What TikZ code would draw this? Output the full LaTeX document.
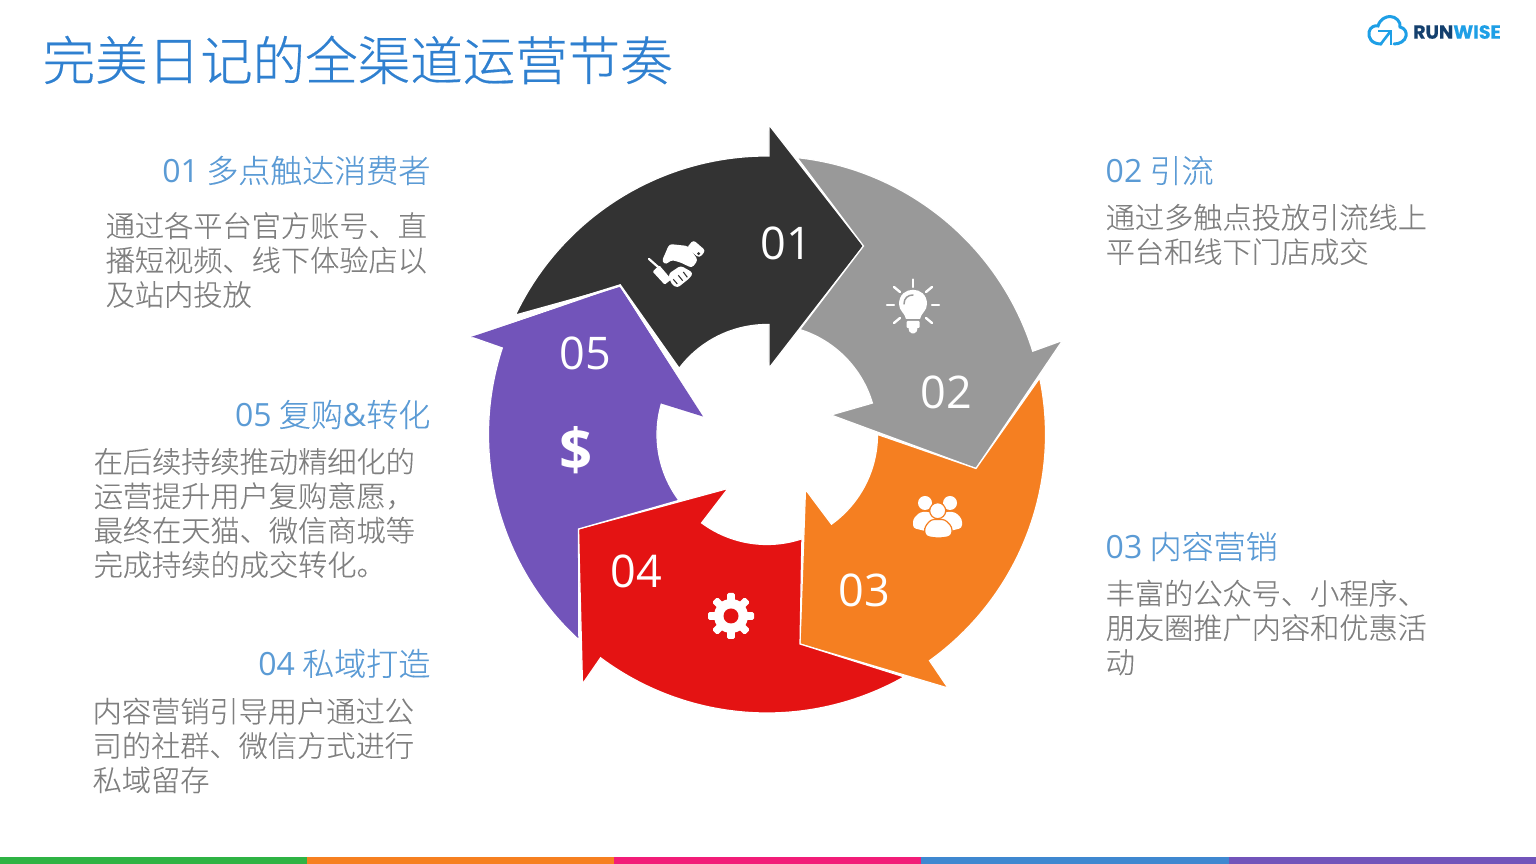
\documentclass[tikz,border=0pt]{standalone}
\usepackage{fontspec}
\usetikzlibrary{calc}
\setmainfont{Noto Sans CJK SC Light}
\newfontfamily\titlecjk[FakeBold=0.35]{Noto Sans CJK SC Light}
\newfontfamily\bodycjk[FakeBold=0.2]{Noto Sans CJK SC Light}
\newfontfamily\osf{Open Sans}
\newfontfamily\logofont[FakeBold=0.5]{Poppins}
\definecolor{cdark}{HTML}{333333}
\definecolor{cgray}{HTML}{999999}
\definecolor{corange}{HTML}{F57F21}
\definecolor{cred}{HTML}{E41313}
\definecolor{cpurple}{HTML}{7254BA}
\definecolor{ctitle}{HTML}{2F80D0}
\definecolor{chead}{HTML}{5B9BD5}
\definecolor{cbody}{HTML}{7F7F7F}
\definecolor{lblue}{HTML}{1E9FE6}
\definecolor{ldark}{HTML}{14406E}
\tikzset{
 seg/.style={draw=white,line width=1.2pt,line join=miter},
 num/.style={text=white,font={\osf\fontsize{45}{44}\selectfont},inner sep=0pt},
 titletext/.style={text=ctitle,font={\titlecjk\fontsize{52.5}{60}\selectfont},inner sep=0pt,anchor=west},
 headr/.style={text=chead,font={\bodycjk\fontsize{32}{38}\selectfont},inner sep=0pt,anchor=east},
 headl/.style={text=chead,font={\bodycjk\fontsize{32}{38}\selectfont},inner sep=0pt,anchor=west},
 bodytext/.style={text=cbody,font={\bodycjk\fontsize{29.2}{34.4}\selectfont},inner sep=0pt,anchor=west,align=left},
 ray/.style={draw=white,line width=2.4pt,line cap=round},
 px/.style={shift={(0,864)},x=1pt,y=-1pt},
}
\begin{document}
\begin{tikzpicture}[x=1pt,y=1pt]
\useasboundingbox (0,0) rectangle (1536,864);
\fill[white] (0,0) rectangle (1536,864);
\coordinate (c) at (767,429.5);
% arrows
\fill[cdark,seg] (620,578) -- ($(c)+(154.6:278.5)$) arc[start angle=154.6,end angle=89.6,radius=278.5pt] -- (769,739) -- (863.5,618) -- (769,496) -- ($(c)+(89:110)$) arc[start angle=89,end angle=143.8,radius=110pt] -- cycle;
\fill[cgray,seg] ($(c)+(83.8:278.5)$) arc[start angle=83.8,end angle=17.4,radius=278.5pt] -- (1062.5,523.5) -- (976,395.5) -- (831,449) -- ($(c)+(16.6:110)$) arc[start angle=16.6,end angle=72.6,radius=110pt] -- (863.5,618) -- cycle;
\fill[corange,seg] (805.5,374.5) -- ($(c)+(-54.3:110.5)$) arc[start angle=-54.3,end angle=0,radius=110.5pt] -- (976,395.5) -- ($(c)+(11.7:278.5)$) arc[start angle=11.7,end angle=-54.3,radius=278.5pt] -- (948,176) -- (800,220) -- cycle;
\fill[cred,seg] (578.5,335) -- (728,375.5) -- ($(c)+(-126.5:110)$) arc[start angle=-126.5,end angle=-71.5,radius=110pt] -- (800,220) -- ($(c)+(-60.5:278.5)$) arc[start angle=-60.5,end angle=-126.7,radius=278.5pt] -- (582.5,180) -- cycle;
\fill[cpurple,seg] (703,447.5) -- ($(c)+(163.2:110)$) arc[start angle=163.2,end angle=216.8,radius=110pt] -- (578.5,335) -- ($(c)+(227.5:278.5)$) arc[start angle=227.5,end angle=161.9,radius=278.5pt] -- (471,527) -- (620,578.5) -- cycle;
\draw[white,line width=2.4pt] (517,546.5) -- (620,578.5) -- (679,495);
\draw[white,line width=2.4pt] (517,546.5) -- (471,527);
\begin{scope}[px]
\fill[cpurple] (471,337) -- (620,287.5) -- (703,416.5) -- (650,400) -- (520,340) -- cycle;
% bottom bar
\fill[fill={rgb,255:red,47;green,179;blue,68}] (0,857) rectangle (307,864);
\fill[fill={rgb,255:red,246;green,128;blue,32}] (307,857) rectangle (614,864);
\fill[fill={rgb,255:red,242;green,29;blue,120}] (614,857) rectangle (921,864);
\fill[fill={rgb,255:red,63;green,136;blue,208}] (921,857) rectangle (1229,864);
\fill[fill={rgb,255:red,114;green,84;blue,186}] (1229,857) rectangle (1536,864);
% title
\node[titletext] (title) at (42.5,60) {完美日记的全渠道运营节奏};
% numbers
\node[num] (n1) at (786,243) {01};
\node[num] (n2) at (946,392) {02};
\node[num] (n3) at (864,590) {03};
\node[num] (n4) at (636.5,571) {04};
\node[num] (n5) at (585,353) {05};
\node[text=white,font={\osf\bfseries\fontsize{58}{58}\selectfont},inner sep=0pt] (dollar) at (576,450) {\$};
% headings
\node[headr] (h1) at (430.5,170.5) {{\osf 01\kern-1pt\ }多点触达消费者};
\node[headr] (h5) at (430.5,414.5) {{\osf 05\kern-1pt\ }复购{\osf\&}转化};
\node[headr] (h4) at (430.5,663.5) {{\osf 04\kern-1pt\ }私域打造};
\node[headl] (h2) at (1105.5,170.5) {{\osf 02\kern-1pt\ }引流};
\node[headl] (h3) at (1105.5,546.5) {{\osf 03\kern-1pt\ }内容营销};
% bodies
\node[bodytext] (b1) at (105.5,260) {通过各平台官方账号、直\\播短视频、线下体验店以\\及站内投放};
\node[bodytext] (b5) at (93.5,513) {在后续持续推动精细化的\\运营提升用户复购意愿，\\最终在天猫、微信商城等\\完成持续的成交转化。};
\node[bodytext] (b4) at (92.5,745.5) {内容营销引导用户通过公\\司的社群、微信方式进行\\私域留存};
\node[bodytext] (b2) at (1105.5,234.5) {通过多触点投放引流线上\\平台和线下门店成交};
\node[bodytext] (b3) at (1105.5,627.5) {丰富的公众号、小程序、\\朋友圈推广内容和优惠活\\动};
% bulb
\foreach \a/\b/\d/\e in {913/279.5/913/287, 887/305/894/305, 939/305/932/305, 894/287/900/292, 932/287/926/292, 894/323/900/318, 932/323/926/318}
  \draw[ray] (\a,\b) -- (\d,\e);
\fill[white] (906,319) .. controls (905,313) and (899,311) .. (899,304) .. controls (899,285) and (927,285) .. (927,304) .. controls (927,311) and (921,313) .. (920,319) -- cycle;
\draw[cgray,line width=1.5pt,line cap=round] (904,304) .. controls (904,298) and (908,295) .. (913,295);
\fill[white,rounded corners=1pt] (906.5,321) rectangle (919.5,328);
\fill[white,rounded corners=2pt] (908,327) -- (918,327) -- (916,333.5) -- (910,333.5) -- cycle;
% people
\fill[white] (925,503) circle[radius=7];
\fill[white] (950,503) circle[radius=7];
\fill[white,rounded corners=3pt] (913,528) -- (913,519) -- (920,512) -- (930,512) -- (936,516) -- (939,516) -- (945,512) -- (955,512) -- (962,519) -- (962,528) -- (950,531) -- (925,531) -- cycle;
\fill[white,draw=corange,line width=1.2pt] (937.7,510.7) circle[radius=8];
\fill[white,draw=corange,line width=1.2pt,rounded corners=3pt] (924.7,535) -- (924.7,527) -- (931,519.5) -- (945,519.5) -- (952,527) -- (952,535) .. controls (945,538.5) and (932,538.5) .. (924.7,535) -- cycle;
% gear
\foreach \t in {0,45,...,315}
  \fill[white,rounded corners=1.5pt,shift={(731,616)},rotate=\t] (-3.8,-10) rectangle (3.8,-23);
\fill[white] (731,616) circle[radius=17];
\fill[cred] (731,616) circle[radius=7.5];
% logo
\draw[lblue,line width=3pt,line cap=round] (1381,44) .. controls (1371,44) and (1368,37) .. (1369,32) .. controls (1370,27) and (1375,25) .. (1378,26) .. controls (1380,19) and (1386,16.5) .. (1390,16.5) .. controls (1396,16.5) and (1401,22) .. (1400,27) .. controls (1405,28) and (1407,33) .. (1406,36) .. controls (1405,41) and (1400,44) .. (1394,44);
\draw[lblue,line width=2.8pt] (1378,31) -- (1391,31) -- (1391,45);
\draw[lblue,line width=2.6pt] (1380,45) -- (1390,32);
\node[inner sep=0pt,anchor=west,font={\logofont\bfseries\fontsize{19}{19}\selectfont}] (logo) at (1413,32) {\textcolor{ldark}{RUN}\textcolor{lblue}{WISE}};
\end{scope}
% handshake, in coordinates of a 3x crop
\begin{scope}[shift={(460,744)},x=0.3333pt,y=-0.3333pt]
\draw[white,line width=2.2pt,line cap=round] (567,417) -- (600,446);
\fill[white,rounded corners=1pt] (578,455) -- (598,436) -- (634,478) -- (614,494) -- cycle;
\fill[white,rounded corners=3pt] (605,425) -- (628,372) -- (684,378) -- (714,420) -- (696,444) -- (658,426) -- (632,420) -- (620,434) -- cycle;
\fill[white,rounded corners=3pt] (625,462) -- (662,437) -- (699,458) -- (692,472) -- (652,504) -- (634,492) -- cycle;
\draw[cdark,line width=1.1pt] (640,478) -- (652,492) (655,466) -- (668,482) (670,456) -- (682,472);
\fill[white,rounded corners=3pt] (700,360) -- (737,392) -- (718,414) -- (680,384) -- cycle;
\fill[cdark] (716,401) circle[radius=1.6pt];
\end{scope}
\end{tikzpicture}
\end{document}
